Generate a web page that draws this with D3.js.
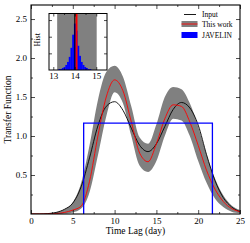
<!DOCTYPE html>
<html><head><meta charset="utf-8">
<script src="https://cdn.jsdelivr.net/npm/d3@7"></script>
<style>body{margin:0;background:#fff} text{font-family:"Liberation Serif","Times New Roman",serif;fill:#000}</style>
</head><body><svg id="c" width="250" height="243"></svg>
<script>
// ---- data ----
const lagDays   = d3.range(0, 26);
const inputTF   = [0,0,0.005,0.02,0.06,0.14,0.35,0.72,1.13,1.38,1.44,1.33,1.10,0.88,0.80,0.90,1.12,1.34,1.43,1.36,1.14,0.76,0.43,0.21,0.09,0.03];
const thisWork  = [0,0,0,0.005,0.02,0.05,0.10,0.42,1.0,1.5,1.72,1.58,1.18,0.78,0.67,0.90,1.22,1.40,1.38,1.18,0.88,0.56,0.32,0.16,0.07,0.03];
const bandHigh  = [0,0,0.005,0.02,0.06,0.15,0.40,0.88,1.46,1.82,1.90,1.76,1.38,0.98,0.90,1.15,1.50,1.63,1.60,1.42,1.12,0.76,0.46,0.24,0.11,0.05];
const bandLow   = [0,0,0,0,0.005,0.02,0.07,0.28,0.75,1.25,1.56,1.42,1.0,0.62,0.54,0.68,1.0,1.22,1.20,1.0,0.68,0.40,0.20,0.09,0.03,0.01];
const javelinLag = [6.3, 21.7];
const javelinHeight = 1.165;
const xTicks = [0,5,10,15,20,25];
const yTicks = [0.5,1.0,1.5,2.0,2.5];
const histBinLeft = [13.24,13.32,13.40,13.48,13.56,13.64,13.72,13.80,13.88,13.96,14.04,14.12,14.20,14.28,14.36,14.44,14.52,14.60,14.68];
const histCounts  = [1,1,2,3,5,8,13,22,35,46,39,24,14,8,5,3,2,1,1];
const histBinWidth = 0.08;
const histBand = [13.18, 15.02];
const inputLag = 14.0, medianLag = 14.08;
const insetTicks = [13,14,15];
const legendLabels = ["Input","This work","JAVELIN"];

// ---- layout ----
const svg = d3.select("#c");
const L=31, R=240, T=5, B=214;
const x = d3.scaleLinear().domain([0,25]).range([L,R]);
const y = d3.scaleLinear().domain([0,2.68]).range([B,T]);

svg.append("clipPath").attr("id","clip").append("rect").attr("x",L).attr("y",T).attr("width",R-L).attr("height",B-T);
const g = svg.append("g").attr("clip-path","url(#clip)");
const pts = lagDays.map((d,i)=>({t:d,a:inputTF[i],r:thisWork[i],lo:bandLow[i],hi:bandHigh[i]}));
const cv = d3.curveMonotoneX;
g.append("path").datum(pts).attr("fill","#808080")
  .attr("d", d3.area().curve(cv).x(d=>x(d.t)).y0(d=>y(d.lo)).y1(d=>y(d.hi)));
g.append("path").datum(pts).attr("fill","none").attr("stroke","#000").attr("stroke-width",0.9)
  .attr("d", d3.line().curve(cv).x(d=>x(d.t)).y(d=>y(d.a)));
g.append("path").datum(pts).attr("fill","none").attr("stroke","#ff0000").attr("stroke-width",0.9)
  .attr("d", d3.line().curve(cv).x(d=>x(d.t)).y(d=>y(d.r)));
const jav = [[javelinLag[0],0],[javelinLag[0],javelinHeight],[javelinLag[1],javelinHeight],[javelinLag[1],0]];
g.append("path").datum(jav).attr("fill","none").attr("stroke","#0000ff").attr("stroke-width",1.3)
  .attr("d", d3.line().x(d=>x(d[0])).y(d=>y(d[1])));

// axes
function style(sel){ sel.select(".domain").remove(); sel.selectAll("line").attr("stroke","#000").attr("stroke-width",0.7); sel.selectAll("text").attr("font-size",9).attr("font-family","Liberation Serif, serif"); }
svg.append("g").attr("transform",`translate(0,${B})`).call(d3.axisBottom(x).tickValues(xTicks).tickFormat(d3.format("d")).tickSizeInner(-4).tickSizeOuter(0).tickPadding(4)).call(style);
svg.append("g").attr("transform",`translate(0,${B})`).call(d3.axisBottom(x).tickValues(d3.range(2.5,25,5)).tickFormat("").tickSizeInner(-2).tickSizeOuter(0)).call(style);
svg.append("g").attr("transform",`translate(0,${T})`).call(d3.axisTop(x).tickValues(xTicks).tickFormat("").tickSizeInner(-4).tickSizeOuter(0)).call(style);
svg.append("g").attr("transform",`translate(0,${T})`).call(d3.axisTop(x).tickValues(d3.range(2.5,25,5)).tickFormat("").tickSizeInner(-2).tickSizeOuter(0)).call(style);
svg.append("g").attr("transform",`translate(${L},0)`).call(d3.axisLeft(y).tickValues(yTicks).tickFormat(d3.format(".1f")).tickSizeInner(-4).tickSizeOuter(0).tickPadding(4)).call(style);
svg.append("g").attr("transform",`translate(${L},0)`).call(d3.axisLeft(y).tickValues(d3.range(0.25,2.68,0.5)).tickFormat("").tickSizeInner(-2).tickSizeOuter(0)).call(style);
svg.append("g").attr("transform",`translate(${R},0)`).call(d3.axisRight(y).tickValues(yTicks).tickFormat("").tickSizeInner(-4).tickSizeOuter(0)).call(style);
svg.append("g").attr("transform",`translate(${R},0)`).call(d3.axisRight(y).tickValues(d3.range(0.25,2.68,0.5)).tickFormat("").tickSizeInner(-2).tickSizeOuter(0)).call(style);
svg.append("rect").attr("x",L).attr("y",T).attr("width",R-L).attr("height",B-T).attr("fill","none").attr("stroke","#000").attr("stroke-width",1.1);

svg.append("text").attr("x",(L+R)/2+0).attr("y",234).attr("text-anchor","middle").attr("font-size",9.5).text("Time Lag (day)");
svg.append("text").attr("transform",`translate(11,${(T+B)/2}) rotate(-90)`).attr("text-anchor","middle").attr("font-size",9.5).text("Transfer Function");

// legend
const lg = svg.append("g");
legendLabels.forEach((lab,i)=>{
  const yy = [14.5,24,35][i];
  if(i===0) lg.append("line").attr("x1",184).attr("x2",196).attr("y1",yy).attr("y2",yy).attr("stroke","#000").attr("stroke-width",0.9);
  if(i===1){ lg.append("rect").attr("x",181.5).attr("y",yy-3).attr("width",16).attr("height",6).attr("fill","#808080");
    lg.append("line").attr("x1",181.5).attr("x2",197.5).attr("y1",yy).attr("y2",yy).attr("stroke","#ff0000").attr("stroke-width",0.9);}
  if(i===2) lg.append("rect").attr("x",181.5).attr("y",yy-3).attr("width",16).attr("height",6).attr("fill","#0000ff");
  lg.append("text").attr("x",202).attr("y",yy+2.6).attr("font-size",7.5).text(lab);
});

// inset
const iL=49, iR=107, iT=13.5, iB=70;
const ix = d3.scaleLinear().domain([12.8,15.5]).range([iL,iR]);
const iy = d3.scaleLinear().domain([0,56]).range([iB,iT]);
svg.append("rect").attr("x",iL).attr("y",iT).attr("width",iR-iL).attr("height",iB-iT).attr("fill","#fff");
svg.append("rect").attr("x",ix(histBand[0])).attr("y",iT).attr("width",ix(histBand[1])-ix(histBand[0])).attr("height",iB-iT).attr("fill","#808080");
svg.append("g").selectAll("rect").data(histBinLeft).join("rect")
  .attr("x",(d)=>ix(d)).attr("width",ix(histBinWidth)-ix(0)+0.2)
  .attr("y",(d,i)=>iy(histCounts[i])).attr("height",(d,i)=>iy(0)-iy(histCounts[i])).attr("fill","#0000ff");
svg.append("line").attr("x1",ix(medianLag)).attr("x2",ix(medianLag)).attr("y1",iT).attr("y2",iB).attr("stroke","#ff0000").attr("stroke-width",2);
svg.append("line").attr("x1",ix(inputLag)).attr("x2",ix(inputLag)).attr("y1",iT).attr("y2",iB).attr("stroke","#000").attr("stroke-width",1);
svg.append("g").attr("transform",`translate(0,${iB})`).call(d3.axisBottom(ix).tickValues(insetTicks).tickFormat(d3.format("d")).tickSizeInner(-3).tickSizeOuter(0).tickPadding(3)).call(style);
svg.append("g").attr("transform",`translate(0,${iB})`).call(d3.axisBottom(ix).tickValues([13.5,14.5]).tickFormat("").tickSizeInner(-1.5).tickSizeOuter(0)).call(style);
svg.append("g").attr("transform",`translate(0,${iT})`).call(d3.axisTop(ix).tickValues(insetTicks).tickFormat("").tickSizeInner(-3).tickSizeOuter(0)).call(style);
svg.append("g").attr("transform",`translate(0,${iT})`).call(d3.axisTop(ix).tickValues([13.5,14.5]).tickFormat("").tickSizeInner(-1.5).tickSizeOuter(0)).call(style);
const iyT = [16.5,33,49.5];
svg.append("g").attr("transform",`translate(${iL},0)`).call(d3.axisLeft(iy).tickValues(iyT).tickFormat("").tickSizeInner(-3).tickSizeOuter(0)).call(style);
svg.append("g").attr("transform",`translate(${iR},0)`).call(d3.axisRight(iy).tickValues(iyT).tickFormat("").tickSizeInner(-3).tickSizeOuter(0)).call(style);
svg.append("rect").attr("x",iL).attr("y",iT).attr("width",iR-iL).attr("height",iB-iT).attr("fill","none").attr("stroke","#000").attr("stroke-width",1);
svg.append("text").attr("transform",`translate(40,${(iT+iB)/2-2}) rotate(-90)`).attr("text-anchor","middle").attr("font-size",8).text("Hist");
</script></body></html>
